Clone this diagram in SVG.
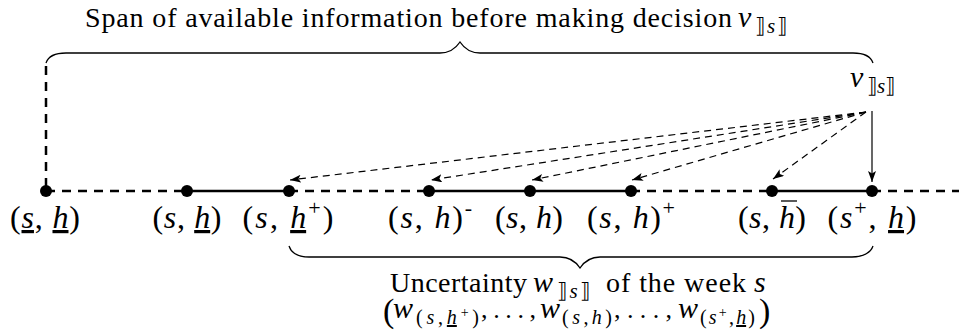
<svg xmlns="http://www.w3.org/2000/svg" width="959" height="331" viewBox="0 0 959 331" font-family="Liberation Serif">
<style>
text{font-family:'Liberation Serif',serif;fill:#000}
.lbl{font-size:32px}
.i{font-style:italic}
.u{text-decoration:underline;text-decoration-thickness:1.3px;text-underline-offset:4px}
.dot{fill:#000}
.thick{stroke:#000;stroke-width:2.5;fill:none}
.dash{stroke-dasharray:9,7}
.arr{stroke:#000;stroke-width:1.2;fill:none;marker-end:url(#ah)}
.ad{stroke-dasharray:7,5}
.brace{stroke:#000;stroke-width:1.3;fill:none}
.bar{stroke:#000;stroke-width:1.3}
</style>
<defs>
<marker id="ah" markerUnits="userSpaceOnUse" markerWidth="12" markerHeight="10" refX="11" refY="4" orient="auto">
<path d="M0,0 L11,4 L0,8 L2.5,4 z" fill="#000"/>
</marker>
</defs>
<rect width="959" height="331" fill="#fff"/>
<g id="title">
<text x="85" y="27" font-size="28" textLength="647" lengthAdjust="spacing">Span of available information before making decision</text>
<text x="738" y="27" font-size="30" class="i">v</text>
<text x="755" y="33" font-size="21" textLength="32" lengthAdjust="spacing">⟧<tspan class="i">s</tspan>⟧</text>
</g>
<g id="decision">
<text x="850" y="87" font-size="30" class="i">v</text>
<text x="867" y="93" font-size="21" textLength="28" lengthAdjust="spacing">⟧<tspan class="i">s</tspan>⟧</text>
</g>
<g id="connectors">
<line class="thick dash" x1="46" y1="66" x2="46" y2="191"/>
<line class="thick dash" x1="46" y1="191" x2="187" y2="191"/>
<line class="thick" x1="187" y1="191" x2="289" y2="191"/>
<line class="thick dash" x1="289" y1="191" x2="429" y2="191"/>
<line class="thick" x1="429" y1="191" x2="631" y2="191"/>
<line class="thick dash" x1="631" y1="191" x2="772" y2="191"/>
<line class="thick" x1="772" y1="191" x2="872" y2="191"/>
<line class="thick dash" x1="872" y1="191" x2="959" y2="191"/>
<line class="arr ad" x1="866" y1="112" x2="290" y2="180"/>
<line class="arr ad" x1="866" y1="112" x2="431" y2="180"/>
<line class="arr ad" x1="866" y1="112" x2="532" y2="180"/>
<line class="arr ad" x1="866" y1="112" x2="632" y2="180"/>
<line class="arr ad" x1="866" y1="112" x2="773" y2="179"/>
<line class="arr" x1="872" y1="111" x2="872" y2="182"/>
<path class="brace" d="M46,63 C48,57 54,53 66,53 L440,53 C450,53 456,48 460,42 C464,48 470,53 480,53 L853,53 C865,53 871,57 873,63"/>
<path class="brace" d="M289,246 C291,252 297,257 309,257 L560,257 C570,257 576,262 580,268 C584,262 590,257 600,257 L852,257 C864,257 871,252 873,246"/>
</g>
<g id="n1"><circle class="dot" cx="46" cy="191" r="6"/>
<text class="lbl" x="45" y="228" text-anchor="middle" textLength="70" lengthAdjust="spacing">(<tspan class="i u">s</tspan>, <tspan class="i u">h</tspan>)</text></g>
<g id="n2"><circle class="dot" cx="187" cy="191" r="6"/>
<text class="lbl" x="187" y="228" text-anchor="middle" textLength="69" lengthAdjust="spacing">(<tspan class="i">s</tspan>, <tspan class="i u">h</tspan>)</text></g>
<g id="n3"><circle class="dot" cx="289" cy="191" r="6"/>
<text class="lbl" x="288" y="228" text-anchor="middle" textLength="91" lengthAdjust="spacing">(<tspan class="i">s</tspan>, <tspan class="i u">h</tspan><tspan font-size="22" dy="-13">+</tspan><tspan dy="13">)</tspan></text></g>
<g id="n4"><circle class="dot" cx="429" cy="191" r="6"/>
<text class="lbl" x="430" y="228" text-anchor="middle" textLength="84" lengthAdjust="spacing">(<tspan class="i">s</tspan>, <tspan class="i">h</tspan>)<tspan font-size="22" dy="-13">-</tspan></text></g>
<g id="n5"><circle class="dot" cx="530" cy="191" r="6"/>
<text class="lbl" x="529" y="228" text-anchor="middle" textLength="68" lengthAdjust="spacing">(<tspan class="i">s</tspan>, <tspan class="i">h</tspan>)</text></g>
<g id="n6"><circle class="dot" cx="631" cy="191" r="6"/>
<text class="lbl" x="631" y="228" text-anchor="middle" textLength="88" lengthAdjust="spacing">(<tspan class="i">s</tspan>, <tspan class="i">h</tspan>)<tspan font-size="22" dy="-13">+</tspan></text></g>
<g id="n7"><circle class="dot" cx="772" cy="191" r="6"/>
<text class="lbl" x="772" y="228" text-anchor="middle" textLength="68" lengthAdjust="spacing">(<tspan class="i">s</tspan>, <tspan class="i">h</tspan>)</text>
<line class="bar" x1="781" y1="201" x2="797" y2="201"/></g>
<g id="n8"><circle class="dot" cx="872" cy="191" r="6"/>
<text class="lbl" x="872" y="228" text-anchor="middle" textLength="89" lengthAdjust="spacing">(<tspan class="i">s</tspan><tspan font-size="22" dy="-13">+</tspan><tspan dy="13">, </tspan><tspan class="i u">h</tspan>)</text></g>
<g id="uncertainty">
<text x="390" y="292" font-size="28" textLength="137" lengthAdjust="spacing">Uncertainty</text>
<text x="533" y="292" font-size="30" class="i">w</text>
<text x="557" y="298" font-size="21" textLength="33" lengthAdjust="spacing">⟧<tspan class="i">s</tspan>⟧</text>
<text x="606" y="292" font-size="28" textLength="140" lengthAdjust="spacing">of the week</text>
<text x="754" y="292" font-size="30" class="i">s</text>
<text x="383" y="322" font-size="34">(</text>
<text x="393" y="318" font-size="30" class="i">w</text>
<text x="416" y="324" font-size="20" textLength="63" lengthAdjust="spacing">(<tspan class="i">s</tspan>,<tspan class="i u">h</tspan><tspan font-size="14" dy="-7">+</tspan><tspan dy="7">)</tspan></text>
<text x="481" y="318" font-size="26" textLength="55" lengthAdjust="spacing">, . . . ,</text>
<text x="540" y="318" font-size="30" class="i">w</text>
<text x="562" y="324" font-size="20" textLength="50" lengthAdjust="spacing">(<tspan class="i">s</tspan>,<tspan class="i">h</tspan>)</text>
<text x="614" y="318" font-size="26" textLength="58" lengthAdjust="spacing">, . . . ,</text>
<text x="678" y="318" font-size="30" class="i">w</text>
<text x="700" y="324" font-size="20" textLength="55" lengthAdjust="spacing">(<tspan class="i">s</tspan><tspan font-size="14" dy="-7">+</tspan><tspan dy="7">,</tspan><tspan class="i u">h</tspan>)</text>
<text x="759" y="322" font-size="34">)</text>
</g>
</svg>
